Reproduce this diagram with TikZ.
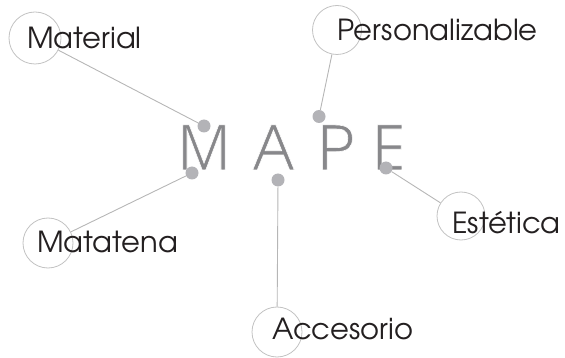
\documentclass[tikz,border=0pt]{standalone}
\usepackage{fontspec}
\usepackage{graphicx}
\newfontfamily\adv{texgyreadventor-regular.otf}
\definecolor{ringgray}{HTML}{C2C2C2}
\definecolor{linkgray}{HTML}{B6B6B6}
\definecolor{dotgray}{HTML}{B3B3B7}
\definecolor{bigtext}{HTML}{88888B}
\definecolor{labeltext}{HTML}{231F20}
\newcommand\thinglyph[2][1]{\special{pdf:literal direct 2 Tr 0.6 w 1 1 1 RG}\scalebox{#1}[1]{#2}\special{pdf:literal direct 0 Tr}}
\tikzset{
  ring/.style={circle,draw=ringgray,line width=0.8pt,inner sep=0pt},
  hub/.style={circle,fill=dotgray,inner sep=0pt,minimum size=13pt},
  link/.style={draw=linkgray,line width=0.9pt},
  lab/.style={anchor=base west,inner sep=0pt,text=labeltext,font=\adv\fontsize{29}{31}\selectfont},
  bigletter/.style={anchor=base,inner sep=0pt,text=bigtext,font=\adv\fontsize{61}{64}\selectfont}
}
\begin{document}
\begin{tikzpicture}[x=1pt,y=-1pt]
\useasboundingbox (0,0) rectangle (565,358);
% outline circles
\node[ring,minimum size=52pt] (cMat) at (35,38) {};
\node[ring,minimum size=49pt] (cPer) at (337,30) {};
\node[ring,minimum size=48pt] (cEst) at (461,216) {};
\node[ring,minimum size=50pt] (cMtt) at (48,243) {};
\node[ring,minimum size=50pt] (cAcc) at (277,332) {};
% big letters
\node[bigletter] (lM) at (204,170) {\thinglyph[0.9]{M}};
\node[bigletter] (lA) at (273.5,170) {\thinglyph[0.95]{A}};
\node[bigletter] (lP) at (336,170) {\thinglyph{P}};
\node[bigletter] (lE) at (389,170) {\thinglyph{E}};
% hub dots
\node[hub] (dMat) at (204,126) {};
\node[hub] (dPer) at (319,116.5) {};
\node[hub] (dEst) at (386,168) {};
\node[hub] (dMtt) at (192,173) {};
\node[hub] (dAcc) at (278,180) {};
% connectors
\draw[link] (cMat) -- (dMat);
\draw[link] (cPer) -- (dPer);
\draw[link] (cEst) -- (dEst);
\draw[link] (cMtt) -- (dMtt);
\draw[link] (cAcc) -- (dAcc);
% labels
\node[lab] (tMat) at (27,49) {Material};
\node[lab] (tPer) at (337,40.5) {Personalizable};
\node[lab] (tEst) at (452,234) {Estética};
\node[lab] (tMtt) at (37,253) {Matatena};
\node[lab] (tAcc) at (272,339) {Accesorio};
\end{tikzpicture}
\end{document}
